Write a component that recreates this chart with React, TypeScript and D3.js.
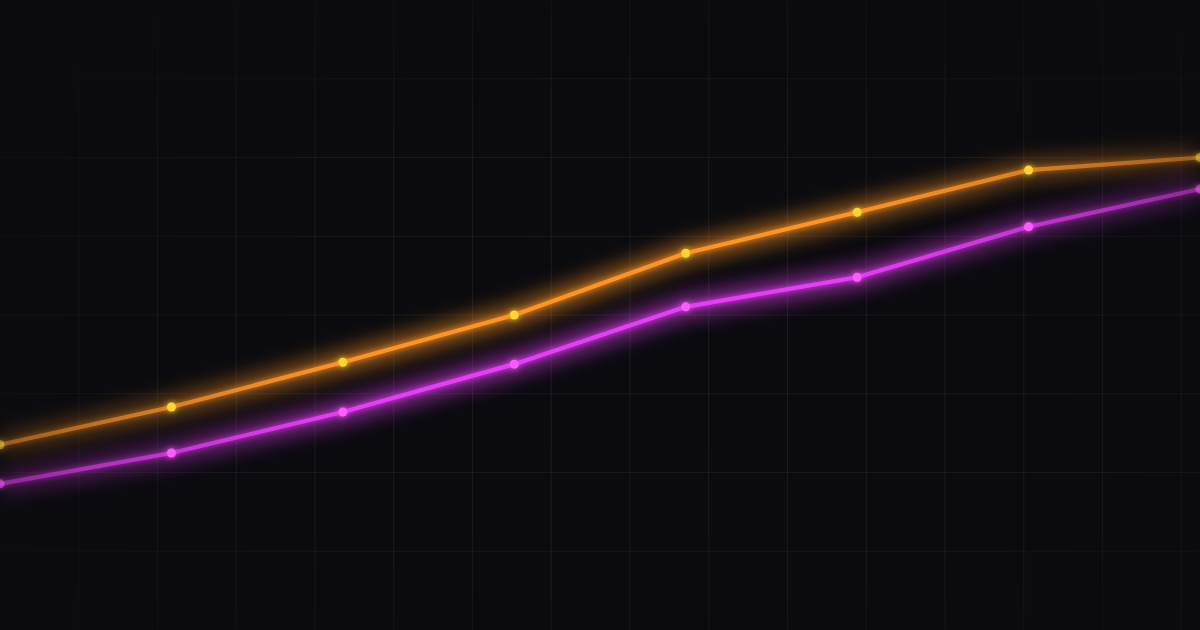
import { useEffect, useRef } from 'react';
import * as d3 from 'd3';

const WIDTH = 1200;
const HEIGHT = 630;

// x categories (no labels drawn in the picture)
const periods = ['P1', 'P2', 'P3', 'P4', 'P5', 'P6', 'P7', 'P8'];

// values on a 0..100 scale
const orangeValues = [29.4, 35.4, 42.5, 50.0, 59.8, 66.3, 73.0, 75.0];
const magentaValues = [23.2, 28.1, 34.6, 42.2, 51.3, 56.0, 64.0, 70.0];

const SERIES = [
  { key: 'orange', values: orangeValues, stroke: '#ff9424', dot: '#ffd52e' },
  { key: 'magenta', values: magentaValues, stroke: '#e63cf6', dot: '#ff5cff' },
];

export default function App() {
  const svgRef = useRef<SVGSVGElement>(null);

  useEffect(() => {
    if (!svgRef.current) return;
    const svg = d3.select(svgRef.current);
    svg.selectAll('*').remove();

    const x = d3.scalePoint<string>().domain(periods).range([0, WIDTH]);
    const y = d3.scaleLinear().domain([0, 100]).range([HEIGHT, 0]);

    const defs = svg.append('defs');

    // radial mask so the grid fades toward the corners
    const rg = defs.append('radialGradient').attr('id', 'gridFade')
      .attr('cx', '55%').attr('cy', '55%').attr('r', '70%');
    rg.append('stop').attr('offset', '0%').attr('stop-color', '#fff').attr('stop-opacity', 1);
    rg.append('stop').attr('offset', '60%').attr('stop-color', '#fff').attr('stop-opacity', 0.75);
    rg.append('stop').attr('offset', '100%').attr('stop-color', '#fff').attr('stop-opacity', 0.1);
    defs.append('mask').attr('id', 'gridMask')
      .append('rect').attr('width', WIDTH).attr('height', HEIGHT).attr('fill', 'url(#gridFade)');

    // wide soft halo
    defs.append('filter').attr('id', 'halo')
      .attr('filterUnits', 'userSpaceOnUse')
      .attr('x', -60).attr('y', -60).attr('width', WIDTH + 120).attr('height', HEIGHT + 120)
      .append('feGaussianBlur').attr('stdDeviation', 10);

    // tight bloom on the core line and dots
    const bloom = defs.append('filter').attr('id', 'bloom')
      .attr('filterUnits', 'userSpaceOnUse')
      .attr('x', -30).attr('y', -30).attr('width', WIDTH + 60).attr('height', HEIGHT + 60);
    bloom.append('feGaussianBlur').attr('in', 'SourceGraphic').attr('stdDeviation', 3).attr('result', 'b');
    const merge = bloom.append('feMerge');
    merge.append('feMergeNode').attr('in', 'b');
    merge.append('feMergeNode').attr('in', 'SourceGraphic');

    // horizontal fade of the lines at both ends
    SERIES.forEach(s => {
      const lg = defs.append('linearGradient').attr('id', `fade-${s.key}`)
        .attr('gradientUnits', 'userSpaceOnUse')
        .attr('x1', 0).attr('x2', WIDTH).attr('y1', 0).attr('y2', 0);
      [[0, 0.4], [0.3, 1], [0.7, 1], [1, 0.4]].forEach(([o, op]) => {
        lg.append('stop').attr('offset', o).attr('stop-color', s.stroke).attr('stop-opacity', op);
      });
    });

    svg.append('rect').attr('width', WIDTH).attr('height', HEIGHT).attr('fill', '#0b0b0f');

    // grid
    const step = HEIGHT / 8;
    const gridG = svg.append('g').attr('mask', 'url(#gridMask)');
    d3.range(step, WIDTH, step).forEach(gx => {
      gridG.append('line').attr('x1', gx).attr('x2', gx).attr('y1', 0).attr('y2', HEIGHT)
        .attr('stroke', 'rgba(255,255,255,0.065)').attr('stroke-width', 1.2);
    });
    d3.range(step, HEIGHT, step).forEach(gy => {
      gridG.append('line').attr('x1', 0).attr('x2', WIDTH).attr('y1', gy).attr('y2', gy)
        .attr('stroke', 'rgba(255,255,255,0.065)').attr('stroke-width', 1.2);
    });

    const line = d3.line<number>()
      .x((_, i) => x(periods[i]) ?? 0)
      .y(d => y(d));

    SERIES.forEach(s => {
      // halo
      svg.append('path')
        .datum(s.values)
        .attr('d', line)
        .attr('fill', 'none')
        .attr('stroke', `url(#fade-${s.key})`)
        .attr('stroke-width', 20)
        .attr('stroke-linejoin', 'round')
        .attr('opacity', 0.6)
        .attr('filter', 'url(#halo)');

      const g = svg.append('g').attr('filter', 'url(#bloom)');
      g.append('path')
        .datum(s.values)
        .attr('d', line)
        .attr('fill', 'none')
        .attr('stroke', `url(#fade-${s.key})`)
        .attr('stroke-width', 4.2)
        .attr('stroke-linejoin', 'round')
        .attr('stroke-linecap', 'round');

      g.selectAll('circle')
        .data(s.values)
        .enter()
        .append('circle')
        .attr('cx', (_, i) => x(periods[i]) ?? 0)
        .attr('cy', d => y(d))
        .attr('r', 4.5)
        .attr('fill', s.dot)
        .attr('opacity', (_, i) => (i === 0 || i === periods.length - 1 ? 0.45 : 1));
    });
  }, []);

  return (
    <div style={{ position: 'fixed', left: 0, top: 0, width: WIDTH, height: HEIGHT, background: '#0b0b0f' }}>
      <svg ref={svgRef} width={WIDTH} height={HEIGHT} style={{ display: 'block' }} />
    </div>
  );
}
